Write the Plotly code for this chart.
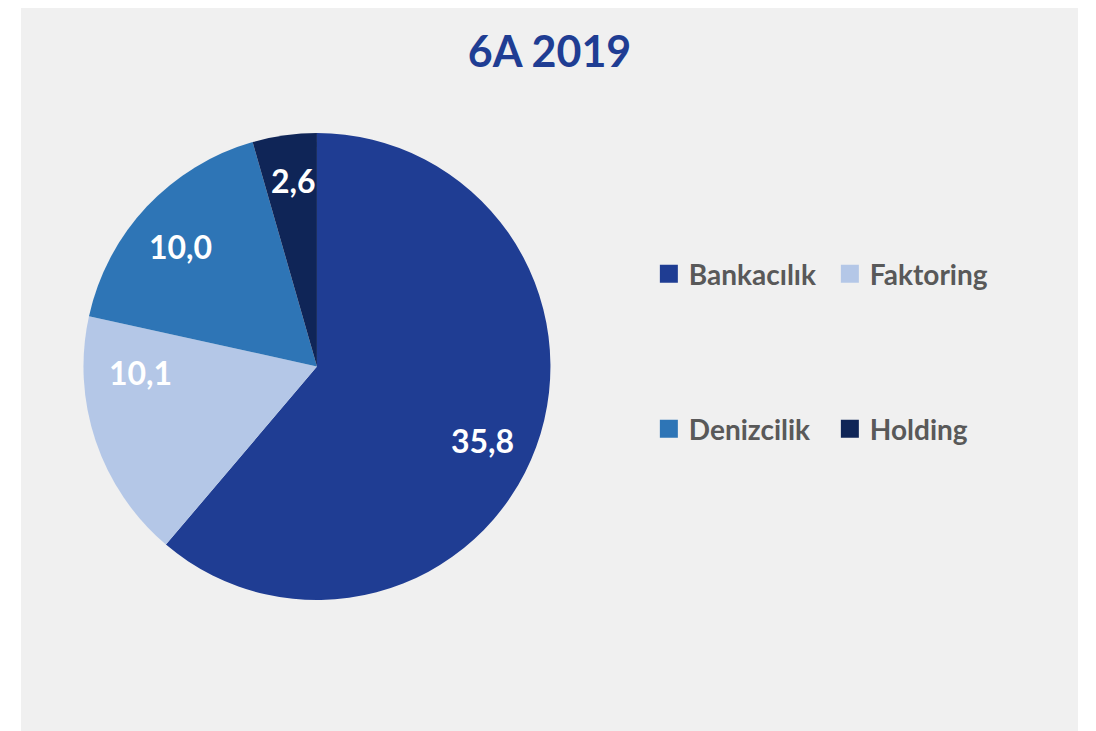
import math
import plotly.graph_objects as go

categories = ["Bankacılık", "Faktoring", "Denizcilik", "Holding"]
values = [35.8, 10.1, 10.0, 2.6]
colors = ["#1F3D93", "#B4C7E7", "#2E75B6", "#0F2557"]
title_text = "6A 2019"

# label placement (style): angle clockwise from 12 o'clock (deg), radius fraction
label_angle = [114.0, 268.2, 311.5, 352.7]
label_rfrac = [0.774, 0.758, 0.778, 0.805]

W, H = 1088, 723
ML, MR, MT, MB = 13, 18, 0, 0
PW, PH = W - ML - MR, H - MT - MB
pie_x = [0.0591, 0.5009]
pie_y = [0.1811, 0.8271]

fig = go.Figure()
fig.add_trace(go.Pie(
    labels=categories, values=values, sort=False, direction="clockwise", rotation=0,
    marker=dict(colors=colors, line=dict(width=0)),
    textinfo="none",
    domain=dict(x=pie_x, y=pie_y),
    showlegend=False, hoverinfo="label+value",
))

# data labels
cx = (pie_x[0] + pie_x[1]) / 2
cy = (pie_y[0] + pie_y[1]) / 2
R_px = min((pie_x[1] - pie_x[0]) * PW, (pie_y[1] - pie_y[0]) * PH) / 2
annotations = []
for v, a, rf in zip(values, label_angle, label_rfrac):
    r = rf * R_px
    ax = cx + r * math.sin(math.radians(a)) / PW
    ay = cy + r * math.cos(math.radians(a)) / PH
    annotations.append(dict(
        x=ax, y=ay, xref="paper", yref="paper", showarrow=False,
        text=f"{v:.1f}".replace(".", ","),
        font=dict(family="Lato", size=32, color="white", weight="bold"),
        xanchor="center", yanchor="middle",
    ))

# legend entries (2 rows)
for i, (name, col) in enumerate(zip(categories, colors)):
    fig.add_trace(go.Scatter(
        x=[None], y=[None], mode="markers", name=name,
        marker=dict(symbol="square", size=16, color=col, line=dict(width=2, color=col)),
        legend="legend" if i < 2 else "legend2",
    ))

legend_common = dict(
    orientation="h", xanchor="left", yanchor="middle", x=0.594,
    font=dict(family="Lato", size=28, color="#595959", weight="bold"),
    bgcolor="rgba(0,0,0,0)", entrywidth=136, entrywidthmode="pixels",
    itemclick=False, itemdoubleclick=False,
)

fig.update_layout(
    width=W, height=H,
    margin=dict(l=ML, r=MR, t=MT, b=MB),
    paper_bgcolor="white",
    separators=",.",
    title=dict(text=title_text, x=0.5, xref="paper", xanchor="center", y=1 - 44 / H, yanchor="middle",
               font=dict(family="Lato", size=43, color="#1F3D93", weight="bold")),
    legend=dict(legend_common, y=1 - (274 - 8) / PH),
    legend2=dict(legend_common, y=1 - (429 - 8) / PH),
    xaxis=dict(visible=False), yaxis=dict(visible=False),
    plot_bgcolor="rgba(0,0,0,0)",
    annotations=annotations,
    shapes=[dict(type="rect", xref="paper", yref="paper", x0=0, x1=1, y0=0, y1=1,
                 fillcolor="#F0F0F0", line=dict(width=0), layer="below")],
)

fig.write_html("out.html")
